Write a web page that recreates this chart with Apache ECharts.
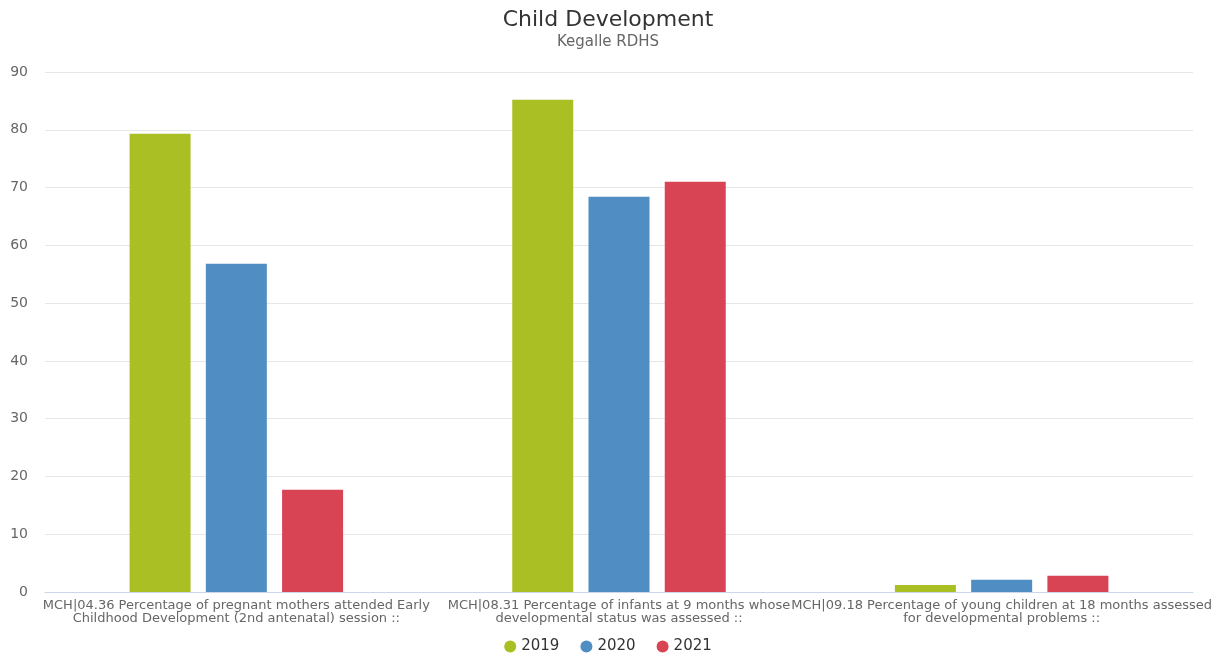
<!DOCTYPE html>
<html><head><meta charset="utf-8">
<script src="https://cdn.jsdelivr.net/npm/echarts@6/dist/echarts.min.js"></script>
<style>html,body{margin:0;padding:0;background:#fff}#c{width:1216px;height:657px}</style>
</head><body><div id="c"></div>
<script>
const categories = [
  "MCH|04.36 Percentage of pregnant mothers attended Early\nChildhood Development (2nd antenatal) session ::",
  "MCH|08.31 Percentage of infants at 9 months whose\ndevelopmental status was assessed ::",
  "MCH|09.18 Percentage of young children at 18 months assessed\nfor developmental problems ::"
];
const seriesNames = ["2019", "2020", "2021"];
const values2019 = [79.3, 85.2, 1.2];
const values2020 = [56.8, 68.4, 2.1];
const values2021 = [17.7, 71.0, 2.8];
const colors = ["#a9bf24", "#508dc3", "#d94455"];

const chart = echarts.init(document.getElementById('c'), null, {renderer: 'canvas'});
const data = [values2019, values2020, values2021];
chart.setOption({
  animation: false,
  title: {
    text: "Child Development", subtext: "Kegalle RDHS", left: 'center', top: 4,
    textStyle: {fontFamily: 'DejaVu Sans', fontSize: 22, fontWeight: 'normal', color: '#333'},
    subtextStyle: {fontFamily: 'DejaVu Sans', fontSize: 15, color: '#666'},
    itemGap: 4
  },
  legend: {
    top: 634, left: 'center', icon: 'circle', itemWidth: 12, itemHeight: 12, itemGap: 21,
    textStyle: {fontFamily: 'DejaVu Sans', fontSize: 15, color: '#333'}
  },
  grid: {left: 45, right: 23, top: 72, bottom: 65},
  xAxis: {
    type: 'category', data: categories,
    axisLine: {lineStyle: {color: '#ccd6eb'}},
    axisTick: {show: false},
    axisLabel: {interval: 0, fontFamily: 'DejaVu Sans', fontSize: 13, color: '#666', lineHeight: 13, margin: 7}
  },
  yAxis: {
    type: 'value', min: 0, max: 90, interval: 10,
    axisLabel: {fontFamily: 'DejaVu Sans', fontSize: 14, color: '#666', margin: 17},
    splitLine: {lineStyle: {color: '#e6e6e6'}}
  },
  series: seriesNames.map((n, i) => ({
    name: n, type: 'bar', data: data[i], barWidth: 61, barGap: '25%',
    itemStyle: {color: colors[i]}
  }))
});
</script></body></html>
